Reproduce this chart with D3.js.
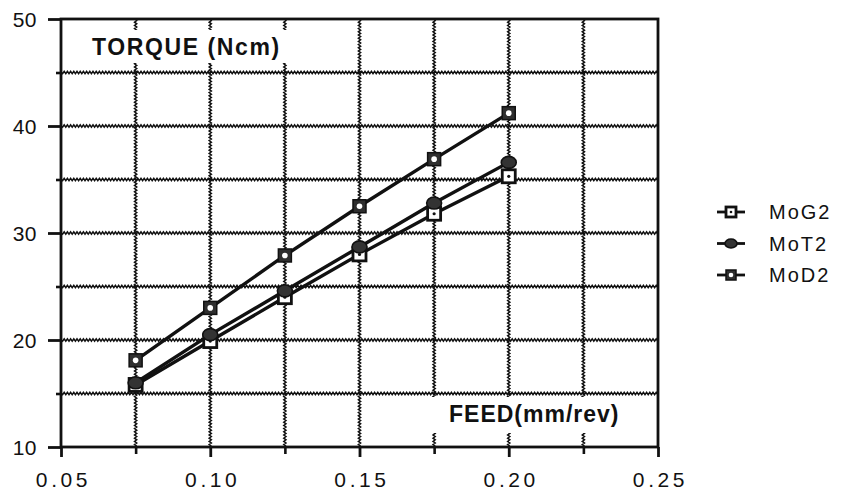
<!DOCTYPE html>
<html>
<head>
<meta charset="utf-8">
<script src="https://cdn.jsdelivr.net/npm/d3@7"></script>
<style>
  body { margin: 0; background: #fff; }
  svg text { font-family: "Liberation Sans", Arial, Helvetica, sans-serif; fill: #111; }
</style>
</head>
<body>
<svg width="842" height="493"></svg>
<script>
var feed = [0.075, 0.10, 0.125, 0.15, 0.175, 0.20];
var moG2 = [15.8, 19.9, 24.0, 28.0, 31.8, 35.3];
var moT2 = [16.0, 20.5, 24.6, 28.7, 32.8, 36.6];
var moD2 = [18.1, 23.0, 27.9, 32.5, 36.9, 41.2];
var seriesNames = ["MoG2", "MoT2", "MoD2"];

var xTicks = [0.05, 0.10, 0.15, 0.20, 0.25];
var xMinor = [0.075, 0.125, 0.175, 0.225];
var yTicks = [10, 20, 30, 40, 50];
var yMinor = [15, 25, 35, 45];

var svg = d3.select("svg"),
        x = d3.scaleLinear().domain([0.05, 0.25]).range([61, 658]),
        y = d3.scaleLinear().domain([10, 50]).range([447, 19]);

var x0 = x.range()[0], x1 = x.range()[1], yb = y.range()[0], yt = y.range()[1];

// wavy grid lines, like the old plotter texture
function wavyH(yy, xa, xb) {
    var p = "M" + xa + "," + yy, k = 0;
    for (var xx = xa + 1.6; xx <= xb; xx += 1.6) {
        p += "L" + xx + "," + (yy + (k++ % 2 ? -1.1 : 1.1));
    }
    return p;
}
function wavyV(xx, ya, yb2) {
    var p = "M" + xx + "," + ya, k = 0;
    for (var yy = ya + 1.6; yy <= yb2; yy += 1.6) {
        p += "L" + (xx + (k++ % 2 ? -1.1 : 1.1)) + "," + yy;
    }
    return p;
}

var grid = svg.append("g").attr("fill", "none").attr("stroke", "#111").attr("stroke-width", 1.5);
grid.selectAll("path.gh")
        .data(d3.range(15, 50, 5))
        .enter().append("path")
        .attr("d", function (d) { return wavyH(y(d), x0, x1); });
grid.selectAll("path.gv")
        .data(d3.range(1, 8).map(function (i) { return 0.05 + i * 0.025; }))
        .enter().append("path")
        .attr("d", function (d) { return wavyV(x(d), yt, yb); });

// white boxes behind the axis titles
svg.append("rect").attr("x", 63).attr("y", 30).attr("width", 232).attr("height", 33).attr("fill", "#fff");
svg.append("rect").attr("x", 428).attr("y", 397).attr("width", 228).attr("height", 36).attr("fill", "#fff");

// frame
svg.append("rect")
        .attr("x", x0).attr("y", yt)
        .attr("width", x1 - x0).attr("height", yb - yt)
        .attr("fill", "none").attr("stroke", "#111").attr("stroke-width", 2.8);

// x axis ticks and labels
var xAxis = d3.axisBottom(x).tickValues(xTicks).tickSize(10).tickFormat(d3.format(".2f"));
var gx = svg.append("g").attr("transform", "translate(0," + yb + ")").call(xAxis);
gx.select(".domain").remove();
gx.selectAll(".tick line").attr("stroke", "#111").attr("stroke-width", 2.8);
gx.selectAll(".tick text")
        .attr("y", 25).attr("dy", "0.71em")
        .style("font-size", "21px").style("letter-spacing", "3.6px")
        .attr("dx", "2px").attr("fill", "#111");
var gxm = svg.append("g").attr("transform", "translate(0," + yb + ")")
        .call(d3.axisBottom(x).tickValues(xMinor).tickSize(7).tickFormat(""));
gxm.select(".domain").remove();
gxm.selectAll(".tick line").attr("stroke", "#111").attr("stroke-width", 2.6);

// y axis ticks and labels
var yAxis = d3.axisLeft(y).tickValues(yTicks).tickSize(13).tickFormat(d3.format("d"));
var gy = svg.append("g").attr("transform", "translate(" + x0 + ",0)").call(yAxis);
gy.select(".domain").remove();
gy.selectAll(".tick line").attr("stroke", "#111").attr("stroke-width", 2.8);
gy.selectAll(".tick text")
        .attr("x", -24).attr("dy", "0.36em")
        .style("font-size", "21px").style("letter-spacing", "0.5px").attr("fill", "#111");
var gym = svg.append("g").attr("transform", "translate(" + x0 + ",0)")
        .call(d3.axisLeft(y).tickValues(yMinor).tickSize(5).tickFormat(""));
gym.select(".domain").remove();
gym.selectAll(".tick line").attr("stroke", "#111").attr("stroke-width", 2.6);

// axis titles
svg.append("text").attr("x", 92).attr("y", 55)
        .style("font-size", "23px").style("font-weight", "bold").style("letter-spacing", "1.6px")
        .text("TORQUE (Ncm)");
svg.append("text").attr("x", 449).attr("y", 422)
        .style("font-size", "23px").style("font-weight", "bold").style("letter-spacing", "1px")
        .text("FEED(mm/rev)");

// markers
function markG2(g, s) {
    g.append("rect").attr("x", -s / 2).attr("y", -s / 2).attr("width", s).attr("height", s)
            .attr("fill", "#fff").attr("stroke", "#111").attr("stroke-width", 2.8);
    g.append("circle").attr("r", s > 10 ? 1.6 : 1.3).attr("fill", "#111");
}
function markT2(g, s) {
    g.append("ellipse").attr("rx", s / 2 + 1).attr("ry", s / 2 - 0.5)
            .attr("fill", "#333").attr("stroke", "#111").attr("stroke-width", 1.6);
}
function markD2(g, s) {
    g.append("rect").attr("x", -s / 2).attr("y", -s / 2).attr("width", s).attr("height", s)
            .attr("fill", "#2e2e2e").attr("stroke", "#111").attr("stroke-width", 1.5);
    g.append("circle").attr("r", s > 10 ? 2.8 : 2.3).attr("fill", "#fff");
}
var markers = [markG2, markT2, markD2];
var allSeries = [moG2, moT2, moD2];

var line = d3.line()
        .x(function (d, i) { return x(feed[i]); })
        .y(function (d) { return y(d); });

allSeries.forEach(function (vals, si) {
    svg.append("path").datum(vals)
            .attr("d", line)
            .attr("fill", "none").attr("stroke", "#111").attr("stroke-width", 3.4);
});
allSeries.forEach(function (vals, si) {
    vals.forEach(function (v, i) {
        var g = svg.append("g").attr("transform", "translate(" + x(feed[i]) + "," + y(v) + ")");
        markers[si](g, 13);
    });
});

// legend
var legend = svg.append("g").attr("transform", "translate(717,212)");
seriesNames.forEach(function (name, i) {
    var row = legend.append("g").attr("transform", "translate(0," + (i * 31.5) + ")");
    row.append("line").attr("x1", 0).attr("x2", 28).attr("y1", 0).attr("y2", 0)
            .attr("stroke", "#111").attr("stroke-width", 2.8);
    var m = row.append("g").attr("transform", "translate(14,0)");
    markers[i](m, 10);
    row.append("text").attr("x", 52).attr("y", 0).attr("dy", "0.36em")
            .style("font-size", "20px").style("letter-spacing", "2px")
            .text(name);
});
</script>
</body>
</html>
